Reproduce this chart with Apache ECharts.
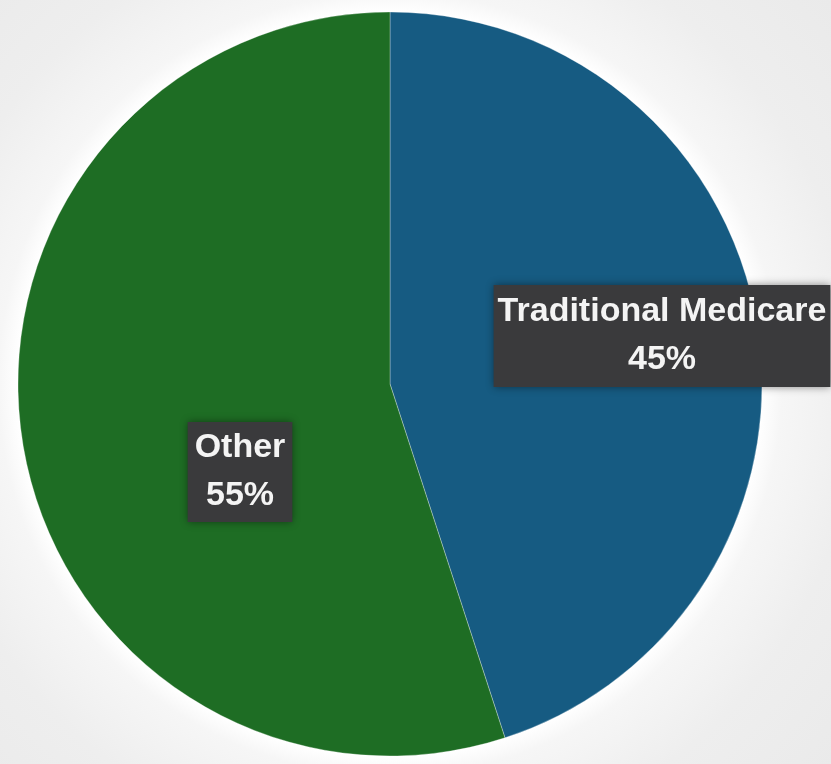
<!DOCTYPE html>
<html>
<head>
<meta charset="utf-8">
<script src="https://cdn.jsdelivr.net/npm/echarts@6/dist/echarts.min.js"></script>
<style>
  html, body { margin: 0; padding: 0; }
  body { width: 831px; height: 764px; overflow: hidden;
         background: radial-gradient(circle at 390px 384px, #ffffff 0px, #ffffff 372px, #f6f6f6 392px, #eeeeee 470px, #e6e6e6 700px); }
  #chart { width: 831px; height: 764px; }
</style>
</head>
<body>
<div id="chart"></div>
<script>
// Data
const categories = ['Traditional Medicare', 'Other'];
const values = [45, 55];
const sliceColors = ['#165b82', '#1e6d24'];

// Label placement (layout only)
const labelCenters = [[662, 336], [240, 472]];
const labelPadding = [[3, 4], [2, 7]];

const chart = echarts.init(document.getElementById('chart'), null, { renderer: 'canvas' });

chart.setOption({
  backgroundColor: 'transparent',
  animation: false,
  series: [{
    type: 'pie',
    center: [390, 384],
    radius: 372,
    startAngle: 90,
    clockwise: true,
    avoidLabelOverlap: false,
    itemStyle: {
      borderColor: 'rgba(255,255,255,0.3)',
      borderWidth: 1
    },
    label: {
      show: true,
      position: 'inside',
      formatter: '{b}\n{c}%',
      color: '#f4f4f4',
      fontFamily: '"Liberation Sans", Arial, sans-serif',
      fontWeight: 'bold',
      fontSize: 34,
      lineHeight: 48,
      align: 'center',
      verticalAlign: 'middle',
      backgroundColor: '#3a3a3c',
      shadowColor: 'rgba(0,0,0,0.45)',
      shadowBlur: 8
    },
    labelLine: { show: false },
    labelLayout: function (params) {
      const c = labelCenters[params.dataIndex];
      return { x: c[0], y: c[1], align: 'center', verticalAlign: 'middle' };
    },
    data: categories.map((name, i) => ({
      name: name,
      value: values[i],
      itemStyle: { color: sliceColors[i] },
      label: { padding: labelPadding[i] }
    }))
  }]
});
</script>
</body>
</html>
